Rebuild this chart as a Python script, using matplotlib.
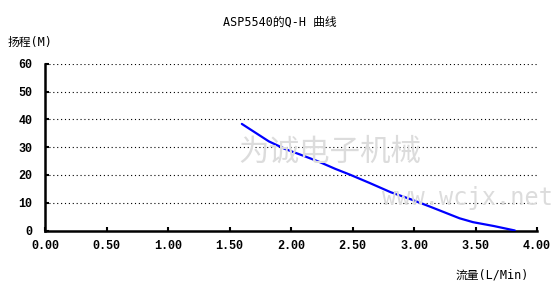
import matplotlib
matplotlib.use("Agg")
import matplotlib.pyplot as plt
from matplotlib.ticker import FormatStrFormatter

plt.rcParams['font.family'] = ['DejaVu Sans Mono', 'Noto Sans CJK SC']

flow = [1.60, 1.82, 1.95, 2.09, 2.22, 2.36, 2.48, 2.64, 2.81, 2.97, 3.13, 3.25, 3.37, 3.48, 3.65, 3.82]
head = [38.4, 32.1, 29.4, 27.1, 24.9, 22.2, 20.1, 17.1, 13.8, 11.3, 8.6, 6.5, 4.4, 3.0, 1.6, 0.0]

title = "ASP5540的Q-H 曲线"
ylabel = "扬程(M)"
xlabel = "流量(L/Min)"
xticks = [0.0, 0.5, 1.0, 1.5, 2.0, 2.5, 3.0, 3.5, 4.0]
yticks = [0, 10, 20, 30, 40, 50, 60]

fig = plt.figure(figsize=(5.6, 2.92), dpi=100)
ax = fig.add_axes([0.0804, 0.2106, 0.8786, 0.5704])

ax.set_xlim(0, 4)
ax.set_ylim(0, 60)
ax.set_xticks(xticks)
ax.set_yticks(yticks)
ax.xaxis.set_major_formatter(FormatStrFormatter('%.2f'))

for y in yticks[1:]:
    ax.axhline(y, color='black', linestyle=(0, (1, 2.5)), linewidth=0.8, zorder=1)

ax.plot(flow, head, color='#0000ff', linewidth=1.6, zorder=3,
        solid_joinstyle='round', solid_capstyle='round')

for s in ['top', 'right']:
    ax.spines[s].set_visible(False)
for s in ['left', 'bottom']:
    ax.spines[s].set_linewidth(1.8)

ax.tick_params(axis='both', direction='in', length=3, width=1.5, labelsize=8.5)
ax.tick_params(axis='x', pad=7)
ax.tick_params(axis='y', pad=9)
for lab in ax.get_xticklabels() + ax.get_yticklabels():
    lab.set_family(['Liberation Mono', 'DejaVu Sans Mono'])
    lab.set_fontweight('bold')

# watermark
fig.text(0.589, 0.48, "为诚电子机械", fontsize=22, color='#dcdcdc', ha='center', va='center',
         family=['Noto Sans CJK SC'], zorder=0)
fig.text(0.835, 0.322, "www.wcjx.net", fontsize=17, color='#dcdcdc', ha='center', va='center',
         family=['DejaVu Sans Mono'], zorder=0)

fig.text(0.5, 0.925, title, fontsize=8.5, ha='center', va='center')
fig.text(0.014, 0.855, ylabel, fontsize=8.5, ha='left', va='center')
fig.text(0.944, 0.058, xlabel, fontsize=8.5, ha='right', va='center')

fig.savefig("out.png", dpi=100)
